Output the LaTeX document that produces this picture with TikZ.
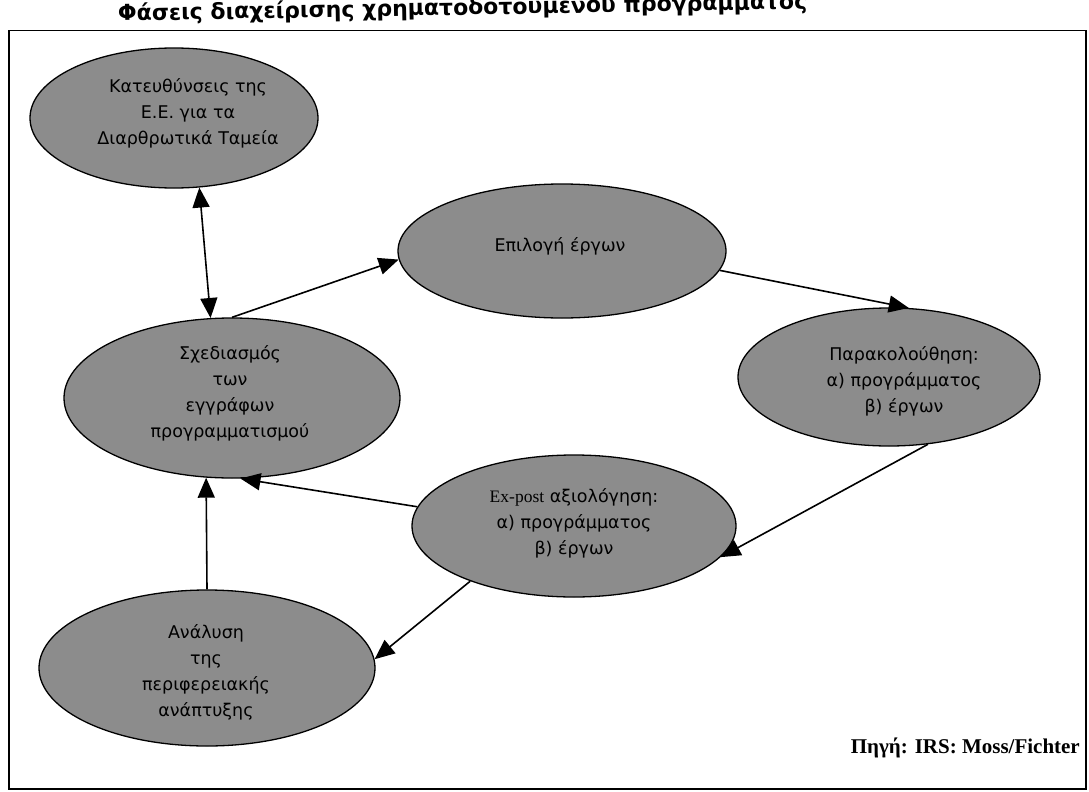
\documentclass[tikz,border=0pt]{standalone}
\usepackage{fontspec}
\setmainfont{DejaVu Sans}
\newfontfamily\serifgr{Liberation Serif}
\usetikzlibrary{shapes.geometric,arrows.meta}
\begin{document}
\begin{tikzpicture}[x=1pt,y=-1pt,
  >={Triangle[length=20pt,width=17pt]},
  phase/.style={ellipse, draw=black, line width=1.3pt, fill=black!45, inner sep=0pt},
  lbl/.style={align=center, inner sep=0pt, font=\fontsize{17.5}{26}\selectfont},
  conn/.style={line width=1.6pt}]
\useasboundingbox (0,0) rectangle (1089,792);
\clip (0,0) rectangle (1089,792);
\fill[white] (0,0) rectangle (1089,792);
% title (its top is cut off by the page edge, as in the scan)
\node[anchor=base west, inner sep=0pt, font=\bfseries\fontsize{22}{24}\selectfont, rotate=1.0] (title) at (118,21) {Φάσεις διαχείρισης χρηματοδοτούμενου προγράμματος};
% frame
\node[draw=black, line width=1.5pt, minimum width=1077pt, minimum height=758pt, inner sep=0pt, anchor=north west] (frame) at (8,30) {};
% phases
\node[phase, minimum width=288pt, minimum height=140pt] (E1) at (174,118) {};
\node[phase, minimum width=328pt, minimum height=134pt] (P) at (562,251) {};
\node[phase, minimum width=336pt, minimum height=160pt] (S) at (232,398) {};
\node[phase, minimum width=302pt, minimum height=138pt] (M) at (889,377) {};
\node[phase, minimum width=324pt, minimum height=142pt] (X) at (574,526) {};
\node[phase, minimum width=336pt, minimum height=156pt] (A) at (207,668) {};
% labels
\node[lbl] (tE1) at (188,113) {Κατευθύνσεις της\\Ε.Ε. για τα\\Διαρθρωτικά Ταμεία};
\node[lbl] (tP) at (560,246) {Επιλογή έργων};
\node[lbl] (tS) at (230,393) {Σχεδιασμός\\των\\εγγράφων\\προγραμματισμού};
\node[lbl] (tM) at (904,381) {Παρακολούθηση:\\α) προγράμματος\\β) έργων};
\node[lbl] (tX) at (574,523) {{\serifgr Ex-post} αξιολόγηση:\\α) προγράμματος\\β) έργων};
\node[lbl] (tA) at (206,672) {Ανάλυση\\της\\περιφερειακής\\ανάπτυξης};
% source
\node[anchor=base east, inner sep=0pt, font=\serifgr\bfseries\fontsize{21}{24}\selectfont] (src) at (1080,753) {Πηγή: IRS: Moss/Fichter};
% connectors
\draw[conn,<->] (E1.-70) -- (S.105);
\draw[conn,->] (S.90) -- (P.183);
\draw[conn,->] (P.-7.5) -- (M.74);
\draw[conn,->] (M.-60) -- (X.-12);
\draw[conn,->] (X.173) -- (S.-84);
\draw[conn,->] (X.208) -- (A.3);
\draw[conn,->] (A.north) -- (S.-108);
\end{tikzpicture}
\end{document}
